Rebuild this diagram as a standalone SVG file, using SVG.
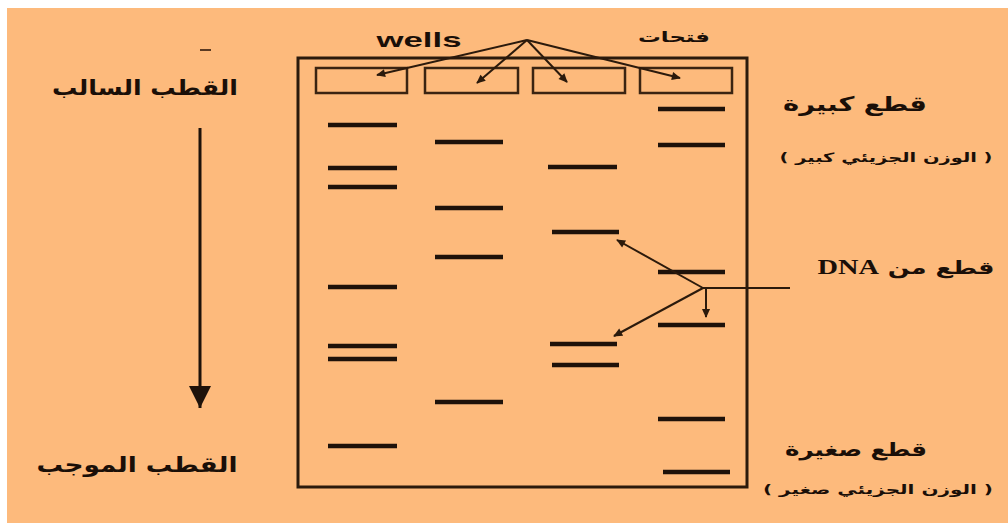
<svg xmlns="http://www.w3.org/2000/svg" width="1008" height="523" viewBox="0 0 1008 523">
<defs>
<style>
.bg{fill:#FDBA7C}
.frame{fill:none;stroke:#2b1a0c;stroke-width:3}
.well{fill:none;stroke:#3a2412;stroke-width:2.5}
.band{stroke:#1e120a;stroke-width:4.5;stroke-linecap:butt}
.ptr{stroke:#2b1a0c;stroke-width:2;fill:none}
.ar{font-family:"DejaVu Sans",sans-serif;font-weight:bold;fill:#1a0f08;direction:rtl}
.en{font-family:"Liberation Sans",Arial,sans-serif;font-weight:bold;fill:#1a0f08}
</style>
<marker id="ah" viewBox="0 0 10 10" refX="9" refY="5" markerWidth="10" markerHeight="9" orient="auto" markerUnits="userSpaceOnUse">
<path d="M0,0.5 L10,5 L0,9.5 Z" fill="#2b1a0c"/>
</marker>
<marker id="big" viewBox="0 0 10 10" refX="10" refY="5" markerWidth="24" markerHeight="22" orient="auto" markerUnits="userSpaceOnUse">
<path d="M0,0 L10,5 L0,10 Z" fill="#1e120a"/>
</marker>
</defs>
<rect x="0" y="0" width="1008" height="523" fill="#ffffff"/>
<rect class="bg" x="7" y="8" width="1001" height="515"/>

<g id="gel">
<rect class="frame" x="298" y="58" width="449" height="429"/>
</g>
<g id="wells">
<rect class="well" x="316" y="68" width="91" height="25"/>
<rect class="well" x="425" y="68" width="93" height="25"/>
<rect class="well" x="533" y="68" width="92" height="25"/>
<rect class="well" x="640" y="68" width="92" height="25"/>
</g>
<g id="lane1">
<line class="band" x1="328" y1="125" x2="397" y2="125"/>
<line class="band" x1="328" y1="168" x2="397" y2="168"/>
<line class="band" x1="328" y1="187" x2="397" y2="187"/>
<line class="band" x1="328" y1="287" x2="397" y2="287"/>
<line class="band" x1="328" y1="346" x2="397" y2="346"/>
<line class="band" x1="328" y1="359" x2="397" y2="359"/>
<line class="band" x1="328" y1="446" x2="397" y2="446"/>
</g>
<g id="lane2">
<line class="band" x1="435" y1="142" x2="503" y2="142"/>
<line class="band" x1="435" y1="208" x2="503" y2="208"/>
<line class="band" x1="435" y1="257" x2="503" y2="257"/>
<line class="band" x1="435" y1="402" x2="503" y2="402"/>
</g>
<g id="lane3">
<line class="band" x1="548" y1="167" x2="617" y2="167"/>
<line class="band" x1="552" y1="232" x2="619" y2="232"/>
<line class="band" x1="550" y1="344" x2="617" y2="344"/>
<line class="band" x1="552" y1="365" x2="619" y2="365"/>
</g>
<g id="lane4">
<line class="band" x1="658" y1="109" x2="725" y2="109"/>
<line class="band" x1="658" y1="145" x2="725" y2="145"/>
<line class="band" x1="658" y1="272" x2="725" y2="272"/>
<line class="band" x1="658" y1="325" x2="725" y2="325"/>
<line class="band" x1="658" y1="419" x2="725" y2="419"/>
<line class="band" x1="663" y1="472" x2="730" y2="472"/>
</g>

<g id="connectors">
<line class="ptr" x1="527" y1="40" x2="377" y2="75" marker-end="url(#ah)"/>
<line class="ptr" x1="527" y1="40" x2="477" y2="83" marker-end="url(#ah)"/>
<line class="ptr" x1="527" y1="40" x2="567" y2="82" marker-end="url(#ah)"/>
<line class="ptr" x1="527" y1="40" x2="680" y2="78" marker-end="url(#ah)"/>
<line class="ptr" x1="703" y1="288" x2="790" y2="288"/>
<line class="ptr" x1="703" y1="288" x2="617" y2="240" marker-end="url(#ah)"/>
<line class="ptr" x1="703" y1="288" x2="614" y2="336" marker-end="url(#ah)"/>
<line class="ptr" x1="706" y1="288" x2="706" y2="317" marker-end="url(#ah)"/>
<line x1="200" y1="128" x2="200" y2="408" stroke="#1e120a" stroke-width="3" marker-end="url(#big)"/>
<line x1="200" y1="50" x2="211" y2="50" stroke="#5a3a22" stroke-width="2"/>
</g>

<g id="labels">
<text class="en" x="419" y="47" font-size="21" text-anchor="middle" textLength="85" lengthAdjust="spacingAndGlyphs">wells</text>
<text class="ar" x="674" y="42" font-size="15" text-anchor="middle" textLength="72" lengthAdjust="spacingAndGlyphs">فتحات</text>
<text class="ar" x="145" y="95" font-size="21" text-anchor="middle" textLength="186" lengthAdjust="spacingAndGlyphs">القطب السالب</text>
<text class="ar" x="137" y="472" font-size="21" text-anchor="middle" textLength="201" lengthAdjust="spacingAndGlyphs">القطب الموجب</text>
<text class="ar" x="855" y="111" font-size="20" text-anchor="middle" textLength="144" lengthAdjust="spacingAndGlyphs">قطع كبيرة</text>
<text class="ar" x="886" y="162" font-size="13" text-anchor="middle" textLength="213" lengthAdjust="spacingAndGlyphs">( الوزن الجزيئي كبير )</text>
<text class="ar" x="906" y="274" font-size="18" text-anchor="middle" textLength="177" lengthAdjust="spacingAndGlyphs">قطع من <tspan font-family="Liberation Serif, serif" font-size="20">DNA</tspan></text>
<text class="ar" x="856" y="456" font-size="19" text-anchor="middle" textLength="142" lengthAdjust="spacingAndGlyphs">قطع صغيرة</text>
<text class="ar" x="878" y="494" font-size="13" text-anchor="middle" textLength="230" lengthAdjust="spacingAndGlyphs">( الوزن الجزيئي صغير )</text>
</g>
</svg>
